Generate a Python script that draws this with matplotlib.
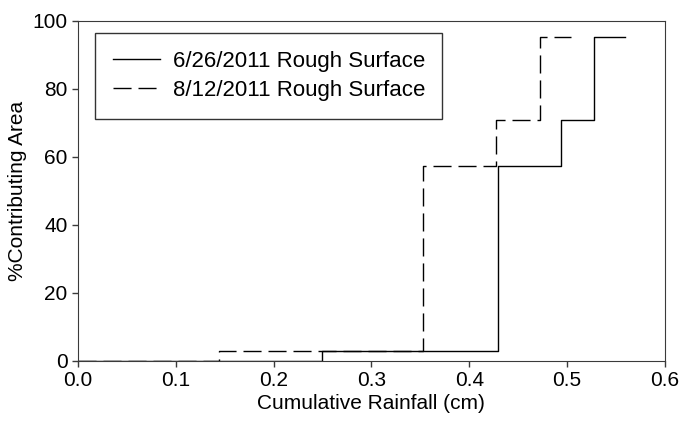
import matplotlib
matplotlib.use("Agg")
import matplotlib.pyplot as plt

plt.rcParams['font.family'] = ['Liberation Sans', 'DejaVu Sans']

# 6/26/2011 rough surface
rain_jun = [0.0, 0.249, 0.429, 0.494, 0.528, 0.559]
area_jun = [0.0, 2.8, 57.3, 71.0, 95.3, 95.3]
# 8/12/2011 rough surface
rain_aug = [0.0, 0.144, 0.353, 0.427, 0.472, 0.504]
area_aug = [0.0, 2.8, 57.3, 71.0, 95.3, 95.3]

labels = ["6/26/2011 Rough Surface", "8/12/2011 Rough Surface"]

fig = plt.figure(figsize=(6.79, 4.28), dpi=100)
ax = fig.add_axes([0.115, 0.157, 0.864, 0.794])

ax.step(rain_jun, area_jun, where="post", color="black", lw=1.0, label=labels[0])
ax.step(rain_aug, area_aug, where="post", color="black", lw=1.0,
        dashes=(13, 5), label=labels[1])

ax.set_xlim(0, 0.6)
ax.set_ylim(0, 100)
ax.set_xticks([0, 0.1, 0.2, 0.3, 0.4, 0.5, 0.6])
ax.set_xticklabels(["0.0", "0.1", "0.2", "0.3", "0.4", "0.5", "0.6"])
ax.set_yticks([0, 20, 40, 60, 80, 100])
ax.tick_params(direction="out", length=4.5, labelsize=15, width=1,
               color="#3a3a3a", pad=3)
for s in ax.spines.values():
    s.set_color("#3a3a3a")
ax.set_xlabel("Cumulative Rainfall (cm)", fontsize=15, labelpad=3)
ax.set_ylabel("%Contributing Area", fontsize=15, labelpad=4)

leg = ax.legend(loc="upper left", bbox_to_anchor=(0.029, 0.965, 0.592, 0.0),
                mode="expand", borderaxespad=0, fontsize=16, frameon=True,
                fancybox=False, edgecolor="black", handlelength=2.1,
                handletextpad=0.6, labelspacing=0.38, borderpad=0.8)
leg.get_frame().set_linewidth(1.0)

fig.savefig("out.png", dpi=100)
